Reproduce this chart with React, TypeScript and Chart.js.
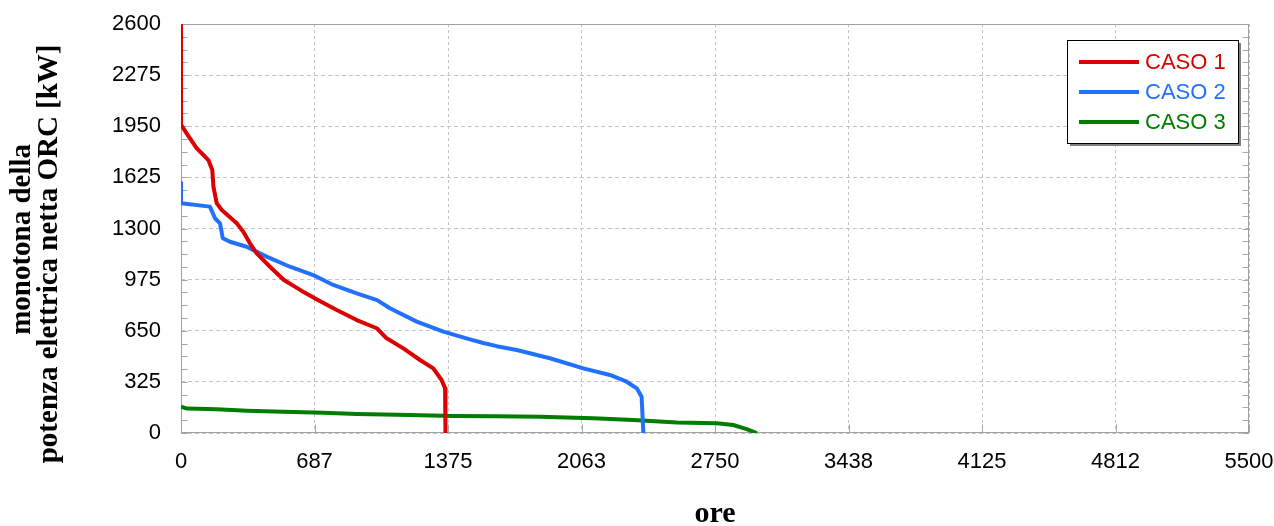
import React, { useEffect, useRef } from 'react';
import { Chart, registerables } from 'chart.js';

Chart.register(...registerables);

// ---- data ----
const seriesLabels = ['CASO 1', 'CASO 2', 'CASO 3'];
const seriesColors = ['#dd0000', '#2170ff', '#007d00'];

const caso1Hours = [0, 0, 29, 81, 141, 161, 167, 184, 210, 287, 321, 355, 390, 458, 530, 620, 705, 802, 905, 1008, 1059, 1145, 1231, 1299, 1342, 1360, 1362];
const caso1Kw = [2590, 1960, 1905, 1810, 1735, 1672, 1566, 1460, 1418, 1333, 1280, 1206, 1142, 1057, 973, 905, 846, 782, 718, 666, 602, 538, 464, 411, 337, 284, 0];

const caso2Hours = [0, 0, 149, 175, 201, 215, 252, 338, 441, 561, 681, 784, 905, 1010, 1076, 1214, 1351, 1488, 1557, 1626, 1729, 1900, 2072, 2209, 2295, 2347, 2372, 2381];
const caso2Kw = [1591, 1460, 1439, 1365, 1333, 1238, 1216, 1184, 1121, 1057, 1004, 941, 888, 845, 793, 708, 644, 595, 572, 552, 528, 475, 411, 369, 326, 284, 231, 0];

const caso3Hours = [0, 30, 184, 338, 526, 733, 905, 1179, 1402, 1626, 1849, 2123, 2329, 2553, 2759, 2844, 2913, 2965];
const caso3Kw = [167, 155, 151, 142, 135, 129, 121, 114, 108, 107, 104, 93, 83, 66, 62, 51, 25, 0];

const xTickValues = [0, 687.5, 1375, 2062.5, 2750, 3437.5, 4125, 4812.5, 5500];
const xTickLabels = ['0', '687', '1375', '2063', '2750', '3438', '4125', '4812', '5500'];
const yMax = 2600;
const yStep = 325;
const yMinorStep = 81.25;

const xTitle = 'ore';
const yTitle = ['monotona della   ', 'potenza elettrica netta ORC [kW]       '];

const SANS = '"Liberation Sans", Arial, sans-serif';
const SERIF = '"Liberation Serif", "Times New Roman", serif';

function toPoints(xs: number[], ys: number[]) {
  return xs.map((x, i) => ({ x, y: ys[i] }));
}

const framePlugin = {
  id: 'frameAndTicks',
  beforeDatasetsDraw(chart: any) {
    const { ctx, chartArea: a, scales } = chart;
    const ys = scales.y;
    const xs = scales.x;
    const L = Math.round(a.left) + 0.5;
    const R = Math.round(a.right) - 0.5;
    const T = Math.round(a.top) + 0.5;
    const B = Math.round(a.bottom) - 0.5;
    ctx.save();
    ctx.strokeStyle = '#a6a6a6';
    ctx.lineWidth = 1;
    ctx.setLineDash([]);
    ctx.beginPath();
    for (let v = 0; v <= yMax + 0.001; v += yMinorStep) {
      const py = Math.round(ys.getPixelForValue(v)) + 0.5;
      ctx.moveTo(L, py);
      ctx.lineTo(L + 6, py);
      ctx.moveTo(R, py);
      ctx.lineTo(R - 6, py);
    }
    for (const v of xTickValues) {
      const px = Math.round(xs.getPixelForValue(v)) + 0.5;
      ctx.moveTo(px, B);
      ctx.lineTo(px, B - 8);
    }
    ctx.stroke();
    ctx.strokeStyle = '#a0a0a0';
    ctx.strokeRect(L, T, R - L, B - T);
    ctx.restore();
  },
};

const legendPlugin = {
  id: 'boxLegend',
  afterDraw(chart: any) {
    const { ctx, chartArea: a } = chart;
    const w = 171;
    const h = 103;
    const left = Math.round(a.right) - 11 - w;
    const top = Math.round(a.top) + 16;
    ctx.save();
    ctx.fillStyle = '#7f7f7f';
    ctx.fillRect(left + 3, top + 3, w, h);
    ctx.fillStyle = '#ffffff';
    ctx.fillRect(left, top, w, h);
    ctx.strokeStyle = '#000000';
    ctx.lineWidth = 1;
    ctx.strokeRect(left + 0.5, top + 0.5, w, h);
    ctx.font = `22px ${SANS}`;
    ctx.textBaseline = 'middle';
    ctx.textAlign = 'left';
    chart.data.datasets.forEach((ds: any, i: number) => {
      const cy = top + 22 + i * 30;
      ctx.strokeStyle = ds.borderColor;
      ctx.lineWidth = 4;
      ctx.beginPath();
      ctx.moveTo(left + 12, cy);
      ctx.lineTo(left + 72, cy);
      ctx.stroke();
      ctx.fillStyle = ds.borderColor;
      ctx.fillText(ds.label, left + 78, cy + 1);
    });
    ctx.restore();
  },
};

export default function App() {
  const ref = useRef<HTMLCanvasElement | null>(null);

  useEffect(() => {
    if (!ref.current) return;
    const series = [
      toPoints(caso1Hours, caso1Kw),
      toPoints(caso2Hours, caso2Kw),
      toPoints(caso3Hours, caso3Kw),
    ];
    const chart = new Chart(ref.current, {
      type: 'line',
      data: {
        datasets: series.map((pts, i) => ({
          label: seriesLabels[i],
          data: pts,
          borderColor: seriesColors[i],
          backgroundColor: seriesColors[i],
          borderWidth: 4,
          pointRadius: 0,
          tension: 0,
          fill: false,
          borderJoinStyle: 'round' as const,
        })),
      },
      options: {
        responsive: false,
        animation: false,
        parsing: false,
        layout: { padding: { top: 24, right: 25, left: 0, bottom: 0 } },
        plugins: {
          legend: { display: false },
          tooltip: { enabled: false },
        },
        scales: {
          x: {
            type: 'linear',
            min: 0,
            max: 5500,
            afterFit: (s: any) => {
              s.height = 93;
              s.paddingLeft = 0;
              s.paddingRight = 10;
            },
            afterBuildTicks: (s: any) => {
              s.ticks = xTickValues.map((v) => ({ value: v }));
            },
            ticks: {
              autoSkip: false,
              maxRotation: 0,
              padding: 16,
              color: '#000',
              font: { family: SANS, size: 22 },
              callback: (_v: any, i: number) => xTickLabels[i],
            },
            grid: { color: '#c4c4c4', lineWidth: 1, drawTicks: false },
            border: { display: false, dash: [3, 3] },
            title: {
              display: true,
              text: xTitle,
              color: '#000',
              font: { family: SERIF, size: 30, weight: 'bold', lineHeight: 0.8 },
              padding: { top: 0, bottom: 0 },
            },
          },
          y: {
            type: 'linear',
            min: 0,
            max: yMax,
            afterFit: (s: any) => {
              s.width = 181;
              s.paddingTop = 10;
              s.paddingBottom = 0;
            },
            ticks: {
              stepSize: yStep,
              padding: 20,
              color: '#000',
              font: { family: SANS, size: 22 },
              callback: (v: any) => String(v),
            },
            grid: { color: '#c4c4c4', lineWidth: 1, drawTicks: false },
            border: { display: false, dash: [4, 3] },
            title: {
              display: true,
              text: yTitle,
              color: '#000',
              font: { family: SERIF, size: 29, weight: 'bold', lineHeight: 0.93 },
              padding: { top: 9.5, bottom: 0 },
            },
          },
        },
      },
      plugins: [framePlugin, legendPlugin],
    } as any);
    return () => chart.destroy();
  }, []);

  return (
    <div style={{ position: 'absolute', left: 0, top: 0, width: 1274, height: 526, background: '#fff' }}>
      <canvas ref={ref} width={1274} height={526} style={{ display: 'block' }} />
    </div>
  );
}
